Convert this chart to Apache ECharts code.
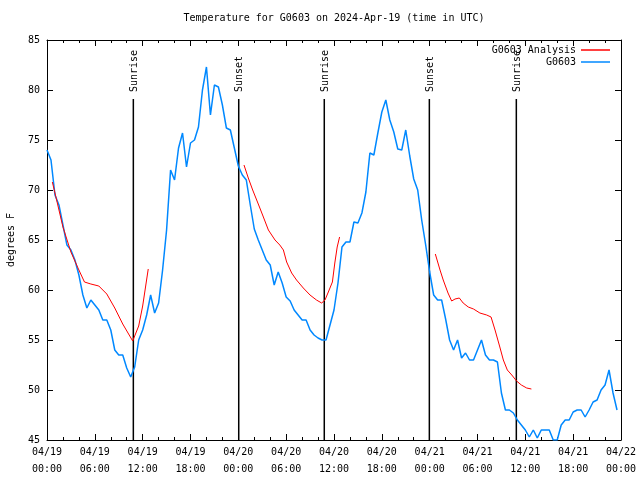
<!DOCTYPE html>
<html>
<head>
<meta charset="utf-8">
<script src="https://cdn.jsdelivr.net/npm/echarts@6/dist/echarts.min.js"></script>
<style>html,body{margin:0;padding:0;background:#fff;}#c{width:640px;height:480px;}</style>
</head>
<body>
<div id="c"></div>
<script>
// ---- data ----
const titleText = 'Temperature for G0603 on 2024-Apr-19 (time in UTC)';
const yAxisName = 'degrees F';
const startMonth = '04';
const startDay = 19;
const xTickHours = 6;      // hours between labelled ticks
const yMin = 45, yMax = 85, yStep = 5;

// G0603 observations, one every half hour from 04/19 00:00
const blueStartHour = 0;
const blueStepHours = 0.5;
const blueTemps = [
 74, 73, 69.5, 68.5, 66.5, 64.5, 64, 63, 61.5, 59.5,
 58.2, 59, 58.5, 58, 57, 57, 56, 54, 53.5, 53.5,
 52.2, 51.3, 52.3, 55, 56, 57.5, 59.5, 57.7, 58.7, 62,
 66, 72, 71, 74.2, 75.7, 72.3, 74.7, 75, 76.3, 80,
 82.3, 77.5, 80.5, 80.3, 78.5, 76.2, 76, 74.2, 72.4, 71.5,
 71, 68.5, 66.1, 65, 64, 63, 62.5, 60.5, 61.8, 60.7,
 59.3, 58.9, 58, 57.5, 57, 57, 56, 55.5, 55.2, 55,
 55, 56.5, 58, 60.7, 64.3, 64.8, 64.8, 66.8, 66.7, 67.7,
 69.8, 73.7, 73.5, 75.7, 77.8, 79, 77, 75.8, 74.1, 74,
 76, 73.4, 71.1, 70, 67, 64.5, 61.8, 59.5, 59, 59,
 57.1, 55, 54, 55, 53.2, 53.7, 53, 53, 54, 55,
 53.5, 53, 53, 52.8, 49.7, 48, 48, 47.7, 47, 46.5,
 46, 45.3, 46, 45.2, 46, 46, 46, 45, 45, 46.5,
 47, 47, 47.8, 48, 48, 47.3, 48, 48.8, 49, 50,
 50.5, 52, 49.7, 48
];

// G0603 Analysis (null separates segments)
const redHours = [
 0.67, 1, 2, 3, 4, 4.7, 5.5, 6.5, 7.5, 8.5, 9.5, 10.75, 11.5, 12, 12.7,
 18,
 24.71, 25.25, 25.8, 26.3, 26.7, 27.14, 27.77, 28.6, 29.2, 29.65, 30.06, 30.69, 31.3, 32.15, 32.99, 33.8, 34.45, 34.87, 35.29, 35.8, 36.1, 36.4, 36.7,
 42,
 48.71, 49.3, 49.7, 50.3, 50.76, 51.18, 51.72, 52.2, 52.84, 53.5, 54.3, 55.15, 55.7, 56.2, 56.8, 57.24, 57.74, 58.3, 58.9, 59.5, 60.17, 60.76
];
const redTemps = [
 70.8, 69.7, 66.3, 63.8, 62, 60.8, 60.6, 60.4, 59.6, 58.2, 56.6, 54.9, 56.4, 58.4, 62.1,
 null,
 72.5, 71.2, 70, 69, 68.2, 67.3, 66, 65, 64.5, 64, 62.8, 61.7, 61, 60.2, 59.5, 59, 58.7, 59, 59.8, 60.8, 62.7, 64.3, 65.3,
 null,
 63.6, 62, 61, 59.7, 58.9, 59.1, 59.2, 58.7, 58.3, 58.1, 57.7, 57.5, 57.3, 56, 54.3, 53, 52, 51.5, 50.9, 50.5, 50.2, 50.1
];

// sunrise / sunset markers
const eventHours = [10.83, 24.05, 34.78, 47.96, 58.87];
const eventNames = ['Sunrise', 'Sunset', 'Sunrise', 'Sunset', 'Sunrise'];
const eventLineTop = 79.1;

const seriesNames = ['G0603 Analysis', 'G0603'];
const seriesColors = ['#ff0000', '#0088ff'];

// ---- chart ----
const FONT = 'DejaVu Sans Mono';
const blueData = blueTemps.map((v, i) => [blueStartHour + i * blueStepHours, v]);
const redData = redHours.map((h, k) => [h, redTemps[k] === null ? '-' : redTemps[k]]);

function pad(n){ return (n < 10 ? '0' : '') + n; }
function xLabel(h){
  const d = startDay + Math.floor(h / 24);
  const hr = Math.round(h % 24);
  return startMonth + '/' + pad(d) + '\n' + pad(hr) + ':00';
}

const xCommon = {
  type: 'value', min: 0, max: 72, interval: xTickHours,
  axisLine: { show: true, onZero: false, lineStyle: { color: '#000', width: 1 } },
  axisTick: { show: true, inside: true, length: 6, lineStyle: { color: '#000' } },
  minorTick: { show: true, splitNumber: 3, length: 3, lineStyle: { color: '#000' } },
  splitLine: { show: false }
};
const yCommon = {
  type: 'value', min: yMin, max: yMax, interval: yStep,
  axisLine: { show: true, onZero: false, lineStyle: { color: '#000', width: 1 } },
  axisTick: { show: true, inside: true, length: 6, lineStyle: { color: '#000' } },
  splitLine: { show: false }
};

const chart = echarts.init(document.getElementById('c'), null, { renderer: 'canvas' });
chart.setOption({
  animation: false,
  backgroundColor: '#fff',
  title: {
    text: titleText, left: 334, top: 13, textAlign: 'center', padding: 0,
    textStyle: { fontFamily: FONT, fontSize: 10, fontWeight: 'normal', color: '#000' }
  },
  legend: {
    data: [{ name: seriesNames[0], icon: 'rect' }, { name: seriesNames[1], icon: 'rect' }],
    orient: 'vertical', right: 30, top: 45, align: 'right', padding: 0,
    itemWidth: 29, itemHeight: 1.5, itemGap: 2,
    textStyle: { fontFamily: FONT, fontSize: 10, color: '#000', lineHeight: 10 },
    selectedMode: false
  },
  grid: { left: 47, right: 19, top: 40, bottom: 40, containLabel: false, outerBoundsMode: 'none' },
  xAxis: [
    Object.assign({}, xCommon, {
      position: 'bottom',
      axisLabel: { show: true, formatter: xLabel, fontFamily: FONT, fontSize: 10, color: '#000', lineHeight: 17, margin: 4 }
    }),
    Object.assign({}, xCommon, { position: 'top', axisLabel: { show: false } })
  ],
  yAxis: [
    Object.assign({}, yCommon, {
      position: 'left',
      name: yAxisName, nameLocation: 'middle', nameRotate: 90, nameGap: 31,
      nameTextStyle: { fontFamily: FONT, fontSize: 10, color: '#000' },
      axisLabel: { show: true, fontFamily: FONT, fontSize: 10, color: '#000', margin: 7 }
    }),
    Object.assign({}, yCommon, { position: 'right', axisLabel: { show: false } })
  ],
  series: [
    {
      name: 'events', type: 'custom', xAxisIndex: 0, yAxisIndex: 0, silent: true, z: 1,
      data: eventHours.map(h => [h]),
      renderItem: function (params, api) {
        const h = api.value(0);
        const top = api.coord([h, eventLineTop]);
        const bot = api.coord([h, yMin]);
        return {
          type: 'group',
          children: [
            { type: 'line', shape: { x1: top[0], y1: top[1], x2: bot[0], y2: bot[1] },
              style: { stroke: '#000', lineWidth: 1.5 } },
            { type: 'text', x: top[0] + 1, y: top[1] - 7, rotation: Math.PI / 2,
              style: { text: eventNames[params.dataIndex], font: '10px "' + FONT + '"', fill: '#000',
                       align: 'left', verticalAlign: 'middle' } }
          ]
        };
      }
    },
    {
      name: seriesNames[0], type: 'line', data: redData, showSymbol: false, connectNulls: false,
      color: seriesColors[0], lineStyle: { color: seriesColors[0], width: 1 }, z: 3
    },
    {
      name: seriesNames[1], type: 'line', data: blueData, showSymbol: false,
      color: seriesColors[1], lineStyle: { color: seriesColors[1], width: 1.5 }, z: 2
    }
  ]
});
</script>
</body>
</html>
